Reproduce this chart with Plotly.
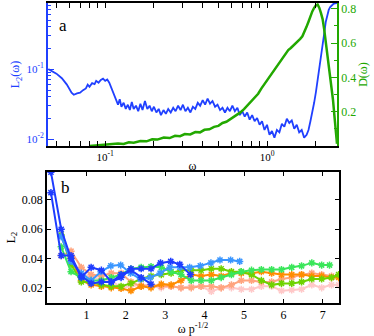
import plotly.graph_objects as go
from plotly.subplots import make_subplots

# panel a: L2(omega) on log axes, D(omega) on a linear right axis
omega_l2 = [0.0445, 0.050, 0.054, 0.058, 0.062, 0.064, 0.067, 0.070, 0.073, 0.076,
            0.078, 0.080, 0.083, 0.086, 0.088, 0.091, 0.094, 0.097, 0.100, 0.103,
            0.106, 0.109, 0.112, 0.115, 0.118, 0.120, 0.123, 0.126, 0.130, 0.134,
            0.138, 0.142, 0.146, 0.150, 0.155, 0.160, 0.165, 0.170, 0.176, 0.182,
            0.188, 0.194, 0.200, 0.207, 0.214, 0.221, 0.229, 0.237, 0.245, 0.254,
            0.263, 0.272, 0.282, 0.292, 0.302, 0.313, 0.324, 0.336, 0.348, 0.360,
            0.373, 0.386, 0.400, 0.414, 0.429, 0.444, 0.460, 0.477, 0.494, 0.512,
            0.530, 0.549, 0.569, 0.589, 0.610, 0.632, 0.655, 0.678, 0.702, 0.727,
            0.753, 0.780, 0.808, 0.837, 0.867, 0.898, 0.930, 0.963, 0.998, 1.034,
            1.071, 1.109, 1.149, 1.190, 1.233, 1.277, 1.323, 1.370, 1.419, 1.470,
            1.523, 1.577, 1.634, 1.692, 1.753, 1.800, 1.850, 1.900, 1.950, 2.000,
            2.050, 2.100, 2.150, 2.200, 2.250, 2.300, 2.350, 2.400, 2.450, 2.500,
            2.560, 2.620, 2.700]
l2_vals = [0.100, 0.086, 0.074, 0.060, 0.046, 0.043, 0.045, 0.046, 0.050, 0.053,
           0.060, 0.056, 0.063, 0.061, 0.068, 0.064, 0.070, 0.073, 0.068, 0.071,
           0.064, 0.054, 0.046, 0.040, 0.035, 0.031, 0.037, 0.029, 0.033, 0.027,
           0.031, 0.026, 0.034, 0.027, 0.030, 0.025, 0.032, 0.026, 0.035, 0.027,
           0.030, 0.025, 0.029, 0.024, 0.027, 0.022, 0.026, 0.023, 0.027, 0.024,
           0.028, 0.025, 0.030, 0.026, 0.031, 0.025, 0.028, 0.024, 0.029, 0.027,
           0.033, 0.030, 0.036, 0.031, 0.038, 0.032, 0.035, 0.029, 0.031, 0.026,
           0.028, 0.024, 0.028, 0.025, 0.030, 0.025, 0.028, 0.022, 0.025, 0.021,
           0.024, 0.019, 0.022, 0.018, 0.020, 0.016, 0.018, 0.0135, 0.016, 0.0115,
           0.013, 0.0105, 0.0135, 0.0125, 0.0165, 0.015, 0.0195, 0.017, 0.0185, 0.014,
           0.016, 0.0125, 0.0135, 0.0105, 0.0115, 0.0135, 0.018, 0.024, 0.033, 0.047,
           0.068, 0.097, 0.140, 0.210, 0.320, 0.470, 0.600, 0.700, 0.770, 0.820,
           0.850, 0.870, 0.880]

omega_d = [0.080, 0.090, 0.100, 0.110, 0.120, 0.130, 0.140, 0.150, 0.165, 0.180,
           0.195, 0.210, 0.230, 0.250, 0.270, 0.290, 0.310, 0.335, 0.360, 0.385,
           0.410, 0.440, 0.470, 0.500, 0.530, 0.560, 0.600, 0.640, 0.680, 0.720,
           0.760, 0.800, 0.840, 0.880, 0.920, 0.960, 1.000, 1.040, 1.080, 1.120,
           1.160, 1.200, 1.250, 1.300, 1.350, 1.400, 1.450, 1.500, 1.550, 1.600,
           1.650, 1.700, 1.750, 1.800, 1.850, 1.900, 1.950, 2.000, 2.050, 2.100,
           2.150, 2.200, 2.250, 2.300, 2.350, 2.400, 2.450, 2.500, 2.550, 2.600,
           2.650, 2.700]
d_vals = [0.000, 0.004, 0.006, 0.010, 0.015, 0.012, 0.022, 0.020, 0.030, 0.028,
          0.040, 0.038, 0.050, 0.047, 0.060, 0.058, 0.070, 0.068, 0.082, 0.080,
          0.095, 0.098, 0.112, 0.118, 0.135, 0.142, 0.160, 0.178, 0.195, 0.215,
          0.240, 0.258, 0.285, 0.305, 0.335, 0.360, 0.385, 0.405, 0.430, 0.455,
          0.475, 0.495, 0.515, 0.540, 0.560, 0.572, 0.585, 0.598, 0.610, 0.625,
          0.640, 0.665, 0.695, 0.725, 0.760, 0.785, 0.805, 0.820, 0.825, 0.805,
          0.775, 0.740, 0.680, 0.610, 0.540, 0.460, 0.400, 0.330, 0.270, 0.180,
          0.100, 0.013]

# panel b: L2 against omega p^-1/2, one curve per p
curve_colors = ["#1e3cff", "#1e3cff", "#3a96ff", "#3ae65a", "#6ed200", "#ff8c00", "#ffa47e", "#ffc8c8"]
curve_x = [
    [0.10, 0.36, 0.61, 0.87, 1.12, 1.38, 1.63, 1.88, 2.13, 2.39, 2.64],
    [0.10, 0.36, 0.61, 0.87, 1.12, 1.38, 1.63, 1.88, 2.13, 2.39, 2.64, 2.88, 3.14, 3.37, 3.64],
    [0.36, 0.61, 0.87, 1.12, 1.37, 1.62, 1.87, 2.12, 2.37, 2.62, 2.87, 3.12, 3.37, 3.62,
     3.89, 4.16, 4.39, 4.66, 4.89],
    [0.36, 0.61, 0.87, 1.12, 1.38, 1.63, 1.88, 2.13, 2.39, 2.64, 2.90, 3.15, 3.40, 3.66,
     3.91, 4.17, 4.42, 4.68, 4.93, 5.19, 5.44, 5.70, 5.95, 6.21, 6.46, 6.72, 6.97, 7.17],
    [0.36, 0.61, 0.87, 1.12, 1.38, 1.63, 1.88, 2.13, 2.39, 2.64, 2.90, 3.15, 3.40, 3.66,
     3.91, 4.17, 4.42, 4.68, 4.93, 5.19, 5.44, 5.70, 5.95, 6.21, 6.46, 6.72, 6.97, 7.22, 7.40],
    [0.61, 0.87, 1.12, 1.38, 1.63, 1.88, 2.13, 2.39, 2.64, 2.90, 3.15, 3.40, 3.66, 3.91,
     4.17, 4.42, 4.68, 4.93, 5.19, 5.44, 5.70, 5.95, 6.21, 6.46, 6.72, 6.97, 7.22, 7.40],
    [0.36, 0.61, 0.87, 1.12, 1.38, 1.63, 1.88, 2.13, 2.39, 2.64, 2.90, 3.15, 3.40, 3.66,
     3.91, 4.17, 4.42, 4.68, 4.93, 5.19, 5.44, 5.70, 5.95, 6.21, 6.46, 6.72, 6.97, 7.22],
    [0.61, 0.87, 1.12, 1.38, 1.63, 1.88, 2.13, 2.39, 2.64, 2.90, 3.15, 3.40, 3.66, 3.91,
     4.17, 4.42, 4.68, 4.93, 5.19, 5.44, 5.70, 5.95, 6.21, 6.46, 6.72, 6.97, 7.22, 7.40],
]
curve_y = [
    [0.099, 0.060, 0.040, 0.028, 0.023, 0.024, 0.024, 0.029, 0.032, 0.027, 0.0225],
    [0.085, 0.042, 0.042, 0.027, 0.034, 0.032, 0.024, 0.027, 0.033, 0.033, 0.033, 0.037, 0.038, 0.036, 0.029],
    [0.055, 0.038, 0.030, 0.025, 0.031, 0.035, 0.0355, 0.030, 0.026, 0.027, 0.030, 0.034, 0.034, 0.034,
     0.035, 0.037, 0.039, 0.039, 0.038],
    [0.048, 0.031, 0.027, 0.025, 0.025, 0.027, 0.029, 0.033, 0.034, 0.0345, 0.034, 0.031, 0.029, 0.025,
     0.025, 0.025, 0.027, 0.029, 0.031, 0.032, 0.0325, 0.0325, 0.0325, 0.034, 0.035, 0.037, 0.0355, 0.0355],
    [0.056, 0.036, 0.024, 0.024, 0.022, 0.021, 0.021, 0.023, 0.026, 0.028, 0.029, 0.030, 0.032, 0.032,
     0.032, 0.033, 0.033, 0.031, 0.031, 0.029, 0.025, 0.022, 0.023, 0.023, 0.024, 0.026, 0.026, 0.027, 0.029],
    [0.040, 0.025, 0.022, 0.021, 0.020, 0.0195, 0.018, 0.021, 0.020, 0.0225, 0.022, 0.025, 0.029, 0.028,
     0.029, 0.028, 0.030, 0.030, 0.030, 0.031, 0.030, 0.029, 0.029, 0.029, 0.028, 0.028, 0.027, 0.027],
    [0.042, 0.045, 0.034, 0.029, 0.028, 0.030, 0.030, 0.024, 0.021, 0.022, 0.021, 0.021, 0.020, 0.020,
     0.021, 0.021, 0.020, 0.022, 0.025, 0.025, 0.024, 0.024, 0.026, 0.027, 0.029, 0.030, 0.029, 0.028],
    [0.040, 0.030, 0.027, 0.026, 0.025, 0.020, 0.021, 0.022, 0.021, 0.020, 0.021, 0.020, 0.021, 0.021,
     0.0175, 0.020, 0.020, 0.019, 0.019, 0.021, 0.021, 0.018, 0.0185, 0.019, 0.022, 0.020, 0.022, 0.022],
]

BLUE = "#2040ff"
GREEN = "#22a800"
FONT = "Liberation Serif"

fig = make_subplots(rows=2, cols=1, specs=[[{"secondary_y": True}], [{}]])

fig.add_trace(go.Scatter(x=omega_l2, y=l2_vals, mode="lines",
                         line=dict(color=BLUE, width=1.8)), row=1, col=1, secondary_y=False)
fig.add_trace(go.Scatter(x=omega_d, y=d_vals, mode="lines",
                         line=dict(color=GREEN, width=2.5)), row=1, col=1, secondary_y=True)

# draw from faint to strong so the blues sit on top
for i in reversed(range(len(curve_x))):
    fig.add_trace(go.Scatter(x=curve_x[i], y=curve_y[i], mode="lines+markers",
                             line=dict(color=curve_colors[i], width=2),
                             marker=dict(symbol="asterisk-open", size=6,
                                         line=dict(color=curve_colors[i], width=1.5))),
                  row=2, col=1)

fig.update_layout(
    width=374, height=336,
    margin=dict(l=47, r=35, t=1, b=33),
    paper_bgcolor="white", plot_bgcolor="white",
    showlegend=False,
    font=dict(family=FONT, size=12, color="black"),
    xaxis=dict(domain=[0.004, 0.993], type="log", range=[-1.352, 0.431],
               tickvals=[0.1, 1], ticktext=["10<sup>-1</sup>", "10<sup>0</sup>"],
               ticks="inside", ticklen=5, tickcolor="black", tickwidth=1.2,
               minor=dict(ticks="inside", ticklen=3, tickcolor="black",
                          tickvals=[0.05, 0.06, 0.07, 0.08, 0.09, 0.2, 0.3, 0.4, 0.5,
                                    0.6, 0.7, 0.8, 0.9, 2]),
               showline=True, linecolor="black", linewidth=1.5, mirror="allticks",
               showgrid=False, zeroline=False,
               title=dict(text="ω", standoff=0, font=dict(size=12)),
               tickfont=dict(size=11)),
    yaxis=dict(domain=[0.523, 1.0], type="log", range=[-2.1, -0.056],
               tickvals=[0.01, 0.1], ticktext=["10<sup>-2</sup>", "10<sup>-1</sup>"],
               ticks="inside", ticklen=6, tickcolor=BLUE, tickwidth=1.2,
               minor=dict(ticks="inside", ticklen=3, tickcolor=BLUE,
                          tickvals=[0.02, 0.03, 0.04, 0.05, 0.06, 0.07, 0.08, 0.09,
                                    0.2, 0.3, 0.4, 0.5, 0.6, 0.7, 0.8]),
               showline=True, linecolor=BLUE, linewidth=2,
               showgrid=False, zeroline=False,
               tickfont=dict(size=11, color=BLUE),
               title=dict(text="L<sub>2</sub>(ω)", standoff=4, font=dict(size=12, color=BLUE))),
    yaxis2=dict(range=[0, 0.834], tickvals=[0.2, 0.4, 0.6, 0.8],
                ticks="inside", ticklen=6, tickcolor=GREEN, tickwidth=1.2,
                minor=dict(ticks="inside", ticklen=3, tickcolor=GREEN,
                           tickvals=[0.1, 0.3, 0.5, 0.7]),
                showline=True, linecolor=GREEN, linewidth=2,
                showgrid=False, zeroline=False,
                tickfont=dict(size=12, color=GREEN),
                title=dict(text="D(ω)", standoff=2, font=dict(size=12, color=GREEN))),
    xaxis2=dict(domain=[0, 1], range=[0, 7.41], tickvals=[1, 2, 3, 4, 5, 6, 7],
                ticks="inside", ticklen=4, tickcolor="black",
                showline=True, linecolor="black", linewidth=1.5, mirror="ticks",
                showgrid=False, zeroline=False,
                title=dict(text="ω p<sup>-1/2</sup>", standoff=0, font=dict(size=12))),
    yaxis3=dict(domain=[0, 0.437], range=[0.0096, 0.0992],
                tickvals=[0.02, 0.04, 0.06, 0.08], tickformat=".2f",
                ticks="inside", ticklen=4, tickcolor="black",
                showline=True, linecolor="black", linewidth=1.5, mirror="ticks",
                showgrid=False, zeroline=False,
                title=dict(text="L<sub>2</sub>", standoff=4, font=dict(size=12))),
)

fig.add_annotation(text="a", xref="paper", yref="paper", x=0.035, y=0.965,
                   xanchor="left", yanchor="top", showarrow=False,
                   font=dict(family=FONT, size=17, color="black"))
fig.add_annotation(text="b", xref="paper", yref="paper", x=0.04, y=0.425,
                   xanchor="left", yanchor="top", showarrow=False,
                   font=dict(family=FONT, size=17, color="black"))

# the page's default body margin would push the figure 8px off the window
fig.write_html("out.html", config={"displayModeBar": False},
               post_script="document.body.style.margin='0';")
